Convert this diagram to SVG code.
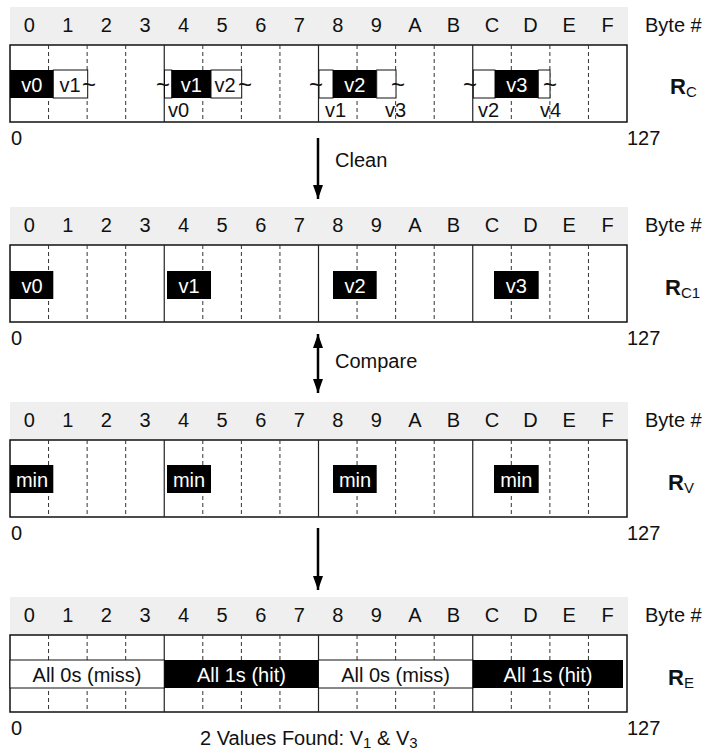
<svg xmlns="http://www.w3.org/2000/svg" xmlns:xlink="http://www.w3.org/1999/xlink" width="713" height="755" viewBox="0 0 713 755">
<style>
text{font-family:"Liberation Sans",Arial,sans-serif;fill:#111}
.hd{font-size:20px;text-anchor:middle}
.lb{font-size:20px}
.c{text-anchor:middle}
.w{fill:#fff}
.t{font-size:24px;text-anchor:middle}
.band{fill:#efefef}
.box{fill:#fff;stroke:#111;stroke-width:1.5}
.ds{stroke:#333;stroke-width:1;stroke-dasharray:4 3}
.sl{stroke:#222;stroke-width:1.2}
.blk{fill:#000}
.wb{fill:#fff;stroke:#111;stroke-width:1}
.R{font-size:22px;font-weight:bold}
.sub{font-size:15px}
.arr{stroke:#000;stroke-width:2.5;fill:none}
</style>
<defs>
<marker id="ah" viewBox="0 0 14 10" refX="14" refY="5" markerWidth="14" markerHeight="10" markerUnits="userSpaceOnUse" orient="auto-start-reverse"><path d="M0,0 L14,5 L0,10 z" fill="#000"/></marker>
<g id="grid">
<rect class="band" x="10" y="0" width="618" height="38"/>
<rect class="box" x="10" y="38" width="617" height="77"/>
<g class="ds">
<line x1="48.56" y1="38" x2="48.56" y2="115"/><line x1="87.13" y1="38" x2="87.13" y2="115"/><line x1="125.69" y1="38" x2="125.69" y2="115"/>
<line x1="202.81" y1="38" x2="202.81" y2="115"/><line x1="241.38" y1="38" x2="241.38" y2="115"/><line x1="279.94" y1="38" x2="279.94" y2="115"/>
<line x1="357.06" y1="38" x2="357.06" y2="115"/><line x1="395.63" y1="38" x2="395.63" y2="115"/><line x1="434.19" y1="38" x2="434.19" y2="115"/>
<line x1="511.31" y1="38" x2="511.31" y2="115"/><line x1="549.88" y1="38" x2="549.88" y2="115"/><line x1="588.44" y1="38" x2="588.44" y2="115"/>
</g>
<g class="sl">
<line x1="164.25" y1="38" x2="164.25" y2="115"/><line x1="318.5" y1="38" x2="318.5" y2="115"/><line x1="472.75" y1="38" x2="472.75" y2="115"/>
</g>
</g>
</defs>

<g id="panel-rc">
<use xlink:href="#grid" x="0" y="7"/>
<g class="hd">
<text x="29.3" y="32">0</text><text x="67.8" y="32">1</text><text x="106.4" y="32">2</text><text x="145" y="32">3</text>
<text x="183.5" y="32">4</text><text x="222.1" y="32">5</text><text x="260.7" y="32">6</text><text x="299.2" y="32">7</text>
<text x="337.8" y="32">8</text><text x="376.3" y="32">9</text><text x="414.9" y="32">A</text><text x="453.5" y="32">B</text>
<text x="492" y="32">C</text><text x="530.6" y="32">D</text><text x="569.2" y="32">E</text><text x="607.7" y="32">F</text>
</g>
<text class="lb" x="645" y="32">Byte #</text>
<rect class="blk" x="10" y="70" width="43.3" height="28"/>
<rect class="wb" x="53.3" y="70" width="34.4" height="28"/>
<text class="lb c w" x="31.7" y="91.5">v0</text>
<text class="lb c" x="70" y="91.5">v1</text>
<text class="t" x="89" y="93">~</text>
<rect class="wb" x="164.5" y="70" width="7.2" height="28"/>
<rect class="blk" x="171.7" y="70" width="39.3" height="28"/>
<rect class="wb" x="211" y="70" width="30.7" height="28"/>
<text class="t" x="163" y="93">~</text>
<text class="lb c w" x="191.3" y="91.5">v1</text>
<text class="lb c" x="225" y="91.5">v2</text>
<text class="t" x="245" y="93">~</text>
<text class="lb" x="168" y="117">v0</text>
<rect class="wb" x="319" y="70" width="14" height="28"/>
<rect class="blk" x="333" y="70" width="43.7" height="28"/>
<rect class="wb" x="376.7" y="70" width="19.3" height="28"/>
<text class="t" x="316" y="93">~</text>
<text class="lb c w" x="354.8" y="91.5">v2</text>
<text class="t" x="398" y="93">~</text>
<text class="lb" x="325" y="117">v1</text>
<text class="lb" x="385" y="117">v3</text>
<rect class="wb" x="473.3" y="70" width="21.7" height="28"/>
<rect class="blk" x="495" y="70" width="43.3" height="28"/>
<rect class="wb" x="538.3" y="70" width="11.7" height="28"/>
<text class="t" x="470" y="93">~</text>
<text class="lb c w" x="516.7" y="91.5">v3</text>
<text class="t" x="550" y="93">~</text>
<text class="lb" x="478" y="117">v2</text>
<text class="lb" x="540" y="117">v4</text>
<text class="R" x="670" y="94">R<tspan class="sub" font-weight="normal" dy="3">C</tspan></text>
<text class="lb" x="11" y="145">0</text>
<text class="lb" x="627" y="145">127</text>
</g>

<g id="panel-rc1">
<use xlink:href="#grid" x="0" y="207"/>
<g class="hd">
<text x="29.3" y="232">0</text><text x="67.8" y="232">1</text><text x="106.4" y="232">2</text><text x="145" y="232">3</text>
<text x="183.5" y="232">4</text><text x="222.1" y="232">5</text><text x="260.7" y="232">6</text><text x="299.2" y="232">7</text>
<text x="337.8" y="232">8</text><text x="376.3" y="232">9</text><text x="414.9" y="232">A</text><text x="453.5" y="232">B</text>
<text x="492" y="232">C</text><text x="530.6" y="232">D</text><text x="569.2" y="232">E</text><text x="607.7" y="232">F</text>
</g>
<text class="lb" x="645" y="232">Byte #</text>
<rect class="blk" x="10" y="271" width="43.3" height="28"/>
<rect class="blk" x="167" y="271" width="44" height="28"/>
<rect class="blk" x="333" y="271" width="43.7" height="28"/>
<rect class="blk" x="494" y="271" width="44.7" height="28"/>
<text class="lb c w" x="32" y="292.5">v0</text>
<text class="lb c w" x="189" y="292.5">v1</text>
<text class="lb c w" x="355" y="292.5">v2</text>
<text class="lb c w" x="516.3" y="292.5">v3</text>
<text class="R" x="665" y="295">R<tspan class="sub" font-weight="normal" dy="3">C1</tspan></text>
<text class="lb" x="11" y="345">0</text>
<text class="lb" x="627" y="345">127</text>
</g>

<g id="panel-rv">
<use xlink:href="#grid" x="0" y="402"/>
<g class="hd">
<text x="29.3" y="427">0</text><text x="67.8" y="427">1</text><text x="106.4" y="427">2</text><text x="145" y="427">3</text>
<text x="183.5" y="427">4</text><text x="222.1" y="427">5</text><text x="260.7" y="427">6</text><text x="299.2" y="427">7</text>
<text x="337.8" y="427">8</text><text x="376.3" y="427">9</text><text x="414.9" y="427">A</text><text x="453.5" y="427">B</text>
<text x="492" y="427">C</text><text x="530.6" y="427">D</text><text x="569.2" y="427">E</text><text x="607.7" y="427">F</text>
</g>
<text class="lb" x="645" y="427">Byte #</text>
<rect class="blk" x="10" y="465" width="43.3" height="28"/>
<rect class="blk" x="167" y="465" width="44" height="28"/>
<rect class="blk" x="333" y="465" width="43.7" height="28"/>
<rect class="blk" x="494" y="465" width="44.7" height="28"/>
<text class="lb c w" x="32" y="486.5">min</text>
<text class="lb c w" x="189" y="486.5">min</text>
<text class="lb c w" x="355" y="486.5">min</text>
<text class="lb c w" x="516.3" y="486.5">min</text>
<text class="R" x="668" y="490">R<tspan class="sub" font-weight="normal" dy="3">V</tspan></text>
<text class="lb" x="11" y="540">0</text>
<text class="lb" x="627" y="540">127</text>
</g>

<g id="panel-re">
<use xlink:href="#grid" x="0" y="597"/>
<g class="hd">
<text x="29.3" y="622">0</text><text x="67.8" y="622">1</text><text x="106.4" y="622">2</text><text x="145" y="622">3</text>
<text x="183.5" y="622">4</text><text x="222.1" y="622">5</text><text x="260.7" y="622">6</text><text x="299.2" y="622">7</text>
<text x="337.8" y="622">8</text><text x="376.3" y="622">9</text><text x="414.9" y="622">A</text><text x="453.5" y="622">B</text>
<text x="492" y="622">C</text><text x="530.6" y="622">D</text><text x="569.2" y="622">E</text><text x="607.7" y="622">F</text>
</g>
<text class="lb" x="645" y="622">Byte #</text>
<rect class="wb" x="10" y="660" width="154.25" height="28"/>
<rect class="blk" x="164.25" y="660" width="154.25" height="28"/>
<rect class="wb" x="318.5" y="660" width="154.25" height="28"/>
<rect class="blk" x="472.75" y="660" width="150.25" height="28"/>
<text class="lb c" x="87" y="681.5">All 0s (miss)</text>
<text class="lb c w" x="241.4" y="681.5">All 1s (hit)</text>
<text class="lb c" x="395.6" y="681.5">All 0s (miss)</text>
<text class="lb c w" x="548" y="681.5">All 1s (hit)</text>
<text class="R" x="668" y="685">R<tspan class="sub" font-weight="normal" dy="3">E</tspan></text>
<text class="lb" x="11" y="735">0</text>
<text class="lb" x="627" y="735">127</text>
<text class="lb" x="200" y="745">2 Values Found: V<tspan class="sub" dy="3">1</tspan><tspan dy="-3"> &amp; V</tspan><tspan class="sub" dy="3">3</tspan></text>
</g>

<g id="connectors">
<line class="arr" x1="318" y1="138" x2="318" y2="199" marker-end="url(#ah)"/>
<text class="lb" x="335" y="167">Clean</text>
<line class="arr" x1="318" y1="334" x2="318" y2="393" marker-start="url(#ah)" marker-end="url(#ah)"/>
<text class="lb" x="335" y="368">Compare</text>
<line class="arr" x1="318" y1="528" x2="318" y2="590" marker-end="url(#ah)"/>
</g>
</svg>
